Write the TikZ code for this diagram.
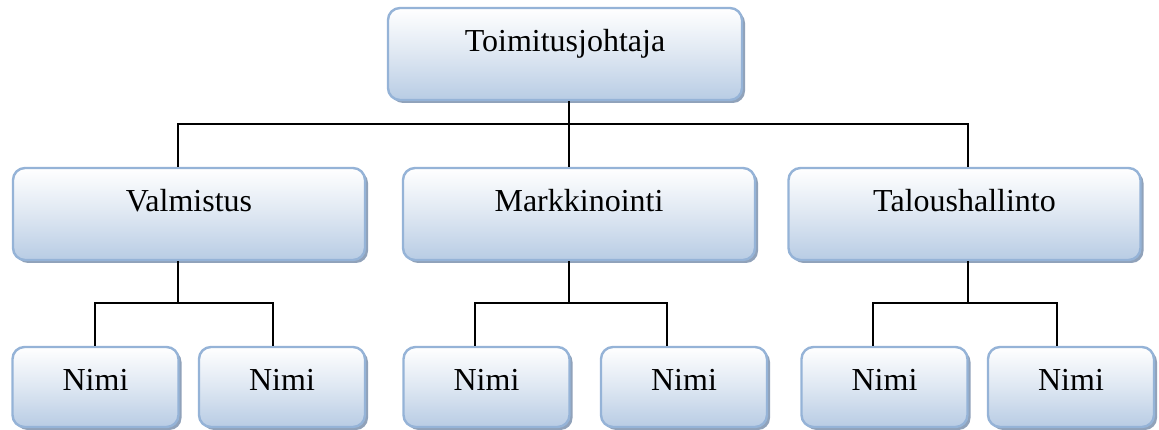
\documentclass[tikz,border=0pt]{standalone}
\usepackage{fontspec}
\setmainfont{Liberation Serif}
\usetikzlibrary{shadows}
\definecolor{boxline}{RGB}{149,179,215}
\definecolor{boxmid}{RGB}{222,231,242}
\definecolor{boxbottom}{RGB}{184,204,228}
\definecolor{boxshade}{RGB}{132,152,178}
\tikzset{
  unitbox/.style={rectangle, rounded corners=12pt, draw=boxline, line width=2.4pt,
    top color=white, bottom color=boxbottom, middle color=boxmid,
    drop shadow={shadow xshift=3pt, shadow yshift=-3pt, fill=boxshade, opacity=0.9},
    inner xsep=0pt, inner ysep=0pt, font=\fontsize{32}{36}\selectfont},
  bigbox/.style={unitbox, minimum width=352pt, text height=44pt, text depth=48pt},
  smallbox/.style={unitbox, minimum width=166pt, text height=43pt, text depth=37pt},
  link/.style={draw=black, line width=1.5pt}
}
\begin{document}
\begin{tikzpicture}[x=1pt, y=-1pt]
  \useasboundingbox (0,0) rectangle (1159,430);
  % top level
  \node[bigbox, minimum width=354pt] (ceo) at (565,54) {Toimitusjohtaja};
  % departments
  \node[bigbox] (valm) at (189,214) {Valmistus};
  \node[bigbox] (mark) at (579,214) {Markkinointi};
  \node[bigbox] (talo) at (964.5,214) {Taloushallinto};
  % staff
  \node[smallbox] (n1) at (95.5,387) {Nimi};
  \node[smallbox] (n2) at (282,387) {Nimi};
  \node[smallbox] (n3) at (486.5,387) {Nimi};
  \node[smallbox] (n4) at (684,387) {Nimi};
  \node[smallbox] (n5) at (884.5,387) {Nimi};
  \node[smallbox] (n6) at (1071,387) {Nimi};
  % heights of the bus lines
  \coordinate (busA) at (0,124);
  \coordinate (busB) at (0,303);
  % top level to departments
  \draw[link] ([xshift=4pt]ceo.south) -- ([xshift=-10pt]mark.north);
  \draw[link] ([xshift=-11pt]valm.north) -- ([xshift=-11pt]valm.north |- busA)
    -| ([xshift=3.5pt]talo.north);
  % Valmistus group
  \draw[link] ([xshift=-11pt]valm.south) -- ([xshift=-11pt]valm.south |- busB);
  \draw[link] ([xshift=-0.5pt]n1.north) -- ([xshift=-0.5pt]n1.north |- busB)
    -| ([xshift=-9pt]n2.north);
  % Markkinointi group
  \draw[link] ([xshift=-10pt]mark.south) -- ([xshift=-10pt]mark.south |- busB);
  \draw[link] ([xshift=-11.5pt]n3.north) -- ([xshift=-11.5pt]n3.north |- busB)
    -| ([xshift=-17pt]n4.north);
  % Taloushallinto group
  \draw[link] ([xshift=3.5pt]talo.south) -- ([xshift=3.5pt]talo.south |- busB);
  \draw[link] ([xshift=-11.5pt]n5.north) -- ([xshift=-11.5pt]n5.north |- busB)
    -| ([xshift=-14pt]n6.north);
\end{tikzpicture}
\end{document}
